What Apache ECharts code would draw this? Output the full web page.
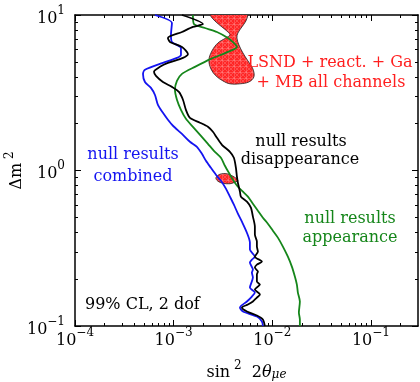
<!DOCTYPE html>
<html>
<head>
<meta charset="utf-8">
<script src="https://cdn.jsdelivr.net/npm/echarts@6/dist/echarts.min.js"></script>
<style>
  html, body { margin: 0; padding: 0; background: #fff; }
  #chart { width: 420px; height: 382px; }
</style>
</head>
<body>
<div id="chart"></div>
<script>
// 99% CL exclusion curves in the (sin^2 2theta_mue, dm^2) plane, [sin^2 2theta, dm^2 in eV^2]
const combinedNull = [
  [6.47e-4, 10], [9.61e-4, 8.88], [9.39e-4, 7.44], [9.61e-4, 6.71], [1.186e-3, 6.14], [1.186e-3, 5.54],
  [1.080e-3, 5.30], [7.79e-4, 4.92], [5.12e-4, 4.44], [4.89e-4, 4.18], [5.12e-4, 3.71], [5.89e-4, 3.40],
  [6.47e-4, 3.06], [6.93e-4, 2.64], [7.79e-4, 2.35], [8.75e-4, 2.12], [9.84e-4, 1.94], [1.214e-3, 1.72],
  [1.463e-3, 1.53], [1.722e-3, 1.42], [1.935e-3, 1.28], [2.125e-3, 1.155], [2.388e-3, 1.04], [2.683e-3, 0.939],
  [3.015e-3, 0.859], [3.388e-3, 0.764], [3.72e-3, 0.679], [4.08e-3, 0.603], [4.48e-3, 0.528], [4.92e-3, 0.469],
  [5.53e-3, 0.398], [5.93e-3, 0.344], [5.93e-3, 0.310], [6.66e-3, 0.279], [6.21e-3, 0.267], [5.93e-3, 0.256],
  [6.36e-3, 0.2306], [6.21e-3, 0.2207], [6.36e-3, 0.2048], [5.93e-3, 0.1767], [6.66e-3, 0.1641], [6.21e-3, 0.1547],
  [5.53e-3, 0.1437], [4.70e-3, 0.1315], [5.04e-3, 0.1239], [6.98e-3, 0.1151], [7.85e-3, 0.1069], [8.03e-3, 0.1]
];
const disappearanceNull = [
  [1.214e-3, 10], [1.981e-3, 8.75], [1.568e-3, 8.38], [1.214e-3, 7.78], [8.75e-4, 7.12], [9.17e-4, 6.71],
  [1.214e-3, 6.23], [1.396e-3, 5.62], [1.243e-3, 5.30], [8.75e-4, 4.92], [7.26e-4, 4.64], [6.32e-4, 4.31],
  [6.62e-4, 4.06], [7.79e-4, 3.71], [9.61e-4, 3.45], [1.131e-3, 3.20], [1.243e-3, 2.85], [1.332e-3, 2.455],
  [1.463e-3, 2.18], [1.847e-3, 2.03], [2.226e-3, 1.91], [2.501e-3, 1.774], [2.746e-3, 1.623], [3.086e-3, 1.463],
  [3.72e-3, 1.319], [4.08e-3, 1.207], [4.28e-3, 1.04], [4.38e-3, 0.912], [4.48e-3, 0.834], [4.70e-3, 0.731],
  [4.81e-3, 0.679], [5.53e-3, 0.630], [6.07e-3, 0.577], [6.36e-3, 0.505], [6.66e-3, 0.435], [6.66e-3, 0.387],
  [6.98e-3, 0.349], [6.98e-3, 0.324], [7.15e-3, 0.301], [6.66e-3, 0.279], [7.85e-3, 0.2595], [6.98e-3, 0.248],
  [6.66e-3, 0.2375], [7.15e-3, 0.2239], [6.98e-3, 0.2142], [6.98e-3, 0.193], [7.49e-3, 0.1847], [6.66e-3, 0.1715],
  [7.49e-3, 0.1593], [6.98e-3, 0.1524], [6.36e-3, 0.1437], [5.66e-3, 0.1374], [4.92e-3, 0.1315], [5.53e-3, 0.1239],
  [6.98e-3, 0.1168], [8.03e-3, 0.1101], [8.41e-3, 0.1]
];
const appearanceNull = [
  [1.568e-3, 10], [1.605e-3, 8.75], [2.076e-3, 8.25], [2.746e-3, 7.78], [3.55e-3, 7.12], [4.08e-3, 6.61],
  [4.38e-3, 6.23], [3.55e-3, 5.79], [2.388e-3, 5.22], [1.644e-3, 4.64], [1.214e-3, 4.18], [1.080e-3, 3.77],
  [1.031e-3, 3.30], [1.080e-3, 2.85], [1.186e-3, 2.455], [1.332e-3, 2.15], [1.568e-3, 1.91], [1.891e-3, 1.672],
  [2.226e-3, 1.485], [2.56e-3, 1.339], [3.015e-3, 1.207], [3.31e-3, 1.073], [3.63e-3, 0.967], [3.99e-3, 0.872],
  [4.48e-3, 0.786], [5.04e-3, 0.731], [5.66e-3, 0.679], [6.36e-3, 0.612], [7.15e-3, 0.551], [8.03e-3, 0.497],
  [9.02e-3, 0.455], [1.014e-2, 0.410], [1.139e-2, 0.370], [1.281e-2, 0.324], [1.439e-2, 0.279], [1.579e-2, 0.241],
  [1.694e-2, 0.208], [1.775e-2, 0.1847], [1.817e-2, 0.1641], [1.904e-2, 0.1437], [1.86e-2, 0.122], [1.904e-2, 0.1101],
  [1.904e-2, 0.1]
];
// Allowed region of the global fit (LSND + reactor + Ga + MiniBooNE), closed contours
const globalFitMain = [
  [2.175e-3, 11.09], [2.333e-3, 10], [2.62e-3, 9.15], [3.086e-3, 8.38], [3.55e-3, 7.78], [3.72e-3, 7.44],
  [3.388e-3, 7.12], [2.81e-3, 6.61], [2.443e-3, 5.87], [2.278e-3, 5.14], [2.388e-3, 4.50], [2.683e-3, 4.06],
  [3.16e-3, 3.77], [3.72e-3, 3.61], [4.70e-3, 3.61], [5.79e-3, 3.71], [6.51e-3, 4.00], [6.36e-3, 4.50],
  [5.66e-3, 5.07], [5.04e-3, 5.70], [4.59e-3, 6.42], [4.38e-3, 7.12], [4.48e-3, 7.66], [4.92e-3, 8.38],
  [5.40e-3, 9.15], [5.66e-3, 10], [5.79e-3, 11.09]
];
const globalFitIsland = [
  [2.683e-3, 0.898], [2.945e-3, 0.946], [3.467e-3, 0.953], [3.99e-3, 0.919], [4.48e-3, 0.866],
  [4.18e-3, 0.841], [3.72e-3, 0.822], [3.16e-3, 0.828], [2.81e-3, 0.853]
];

const xRange = [1e-4, 0.3];
const yRange = [0.1, 10];
const xDecades = [1e-4, 1e-3, 1e-2, 1e-1];
const yDecades = [0.1, 1, 10];

const FONT = 'DejaVu Serif';
const L = v => Math.log10(v);

function minorTicks(range) {
  const out = [];
  for (let e = Math.floor(L(range[0])); e <= Math.ceil(L(range[1])); e++) {
    for (let k = 2; k <= 9; k++) {
      const v = k * Math.pow(10, e);
      if (v > range[0] && v < range[1]) out.push(L(v));
    }
  }
  return out;
}

const tickRich = {
  b: { fontFamily: FONT, fontSize: 16, color: '#000', padding: [7, 0, 0, 0] },
  s: { fontFamily: FONT, fontSize: 12, color: '#000', padding: [0, 0, 9, 0] }
};
function powerLabel(v) {
  const e = Math.round(v);
  return '{b|10}{s|' + (e < 0 ? '\u2212' + (-e) : e) + '}';
}

function frameAxes(range, decades, posMain, posOpp, labelMargin, extra) {
  const base = {
    type: 'value', min: L(range[0]), max: L(range[1]),
    splitLine: { show: false },
    axisLine: { show: true, onZero: false, lineStyle: { color: '#000', width: 1.5 } }
  };
  const major = decades.map(L);
  const minor = minorTicks(range);
  return [
    Object.assign({}, base, {
      position: posMain,
      axisTick: { show: true, inside: true, length: 6, customValues: major, lineStyle: { color: '#000', width: 1 } },
      axisLabel: { show: true, customValues: major, formatter: powerLabel, rich: tickRich, margin: labelMargin }
    }, extra),
    Object.assign({}, base, {
      position: posMain, axisLine: { show: false, onZero: false },
      axisTick: { show: true, inside: true, length: 3, customValues: minor, lineStyle: { color: '#000', width: 1 } },
      axisLabel: { show: false }
    }),
    Object.assign({}, base, {
      position: posOpp,
      axisTick: { show: true, inside: true, length: 6, customValues: major, lineStyle: { color: '#000', width: 1 } },
      axisLabel: { show: false }
    }),
    Object.assign({}, base, {
      position: posOpp, axisLine: { show: false, onZero: false },
      axisTick: { show: true, inside: true, length: 3, customValues: minor, lineStyle: { color: '#000', width: 1 } },
      axisLabel: { show: false }
    })
  ];
}

// crosshatched red fill for the allowed regions
const tile = document.createElement('canvas');
tile.width = 6; tile.height = 6;
(function () {
  const g = tile.getContext('2d');
  g.fillStyle = '#ff2626';
  g.fillRect(0, 0, 6, 6);
  g.strokeStyle = 'rgba(255,150,150,0.6)';
  g.lineWidth = 0.6;
  g.beginPath();
  g.moveTo(0, 0.5); g.lineTo(6, 0.5);
  g.moveTo(0.5, 0); g.lineTo(0.5, 6);
  g.moveTo(0, 0); g.lineTo(6, 6);
  g.moveTo(6, 0); g.lineTo(0, 6);
  g.stroke();
})();
const hatch = { image: tile, repeat: 'repeat' };

function regionSeries(points, name) {
  return {
    type: 'custom', name: name, coordinateSystem: 'cartesian2d', z: 2,
    data: points.map(p => [L(p[0]), L(p[1])]),
    encode: { x: 0, y: 1 },
    renderItem: function (params, api) {
      if (params.dataIndex !== 0) return null;
      const cs = params.coordSys;
      const pts = points.map(p => api.coord([L(p[0]), L(p[1])]));
      return {
        type: 'group',
        clipPath: { type: 'rect', shape: { x: cs.x, y: cs.y, width: cs.width, height: cs.height } },
        children: [{
          type: 'polygon',
          shape: { points: pts, smooth: 0.35 },
          style: { fill: hatch, stroke: '#222', lineWidth: 0.8 }
        }]
      };
    }
  };
}

function curveSeries(points, name, color) {
  return {
    type: 'line', name: name, z: 3,
    data: points.map(p => [L(p[0]), L(p[1])]),
    showSymbol: false, symbol: 'none', smooth: 0.25,
    lineStyle: { color: color, width: 1.8 },
    clip: true
  };
}

function note(text, x, y, color, align) {
  return {
    type: 'text', x: x, y: y, z: 10,
    style: {
      text: text, fill: color, font: '16px "' + FONT + '"',
      textAlign: align || 'center', textVerticalAlign: 'middle',
      align: align || 'center', verticalAlign: 'middle'
    }
  };
}

const BLUE = '#1414f0', GREEN = '#15861a', RED = '#ff1f1f';

const chart = echarts.init(document.getElementById('chart'), null, { renderer: 'canvas' });
chart.setOption({
  animation: false,
  backgroundColor: '#fff',
  grid: { left: 75, right: 2, top: 15, bottom: 56, containLabel: false, outerBoundsMode: 'none' },
  xAxis: frameAxes(xRange, xDecades, 'bottom', 'top', 0, {
    name: '{t|sin}{s| 2}{t|  2}{i|\u03b8}{u|\u03bce}',
    nameLocation: 'middle', nameGap: 32, nameMoveOverlap: false,
    nameTextStyle: {
      rich: {
        t: { fontFamily: FONT, fontSize: 16, color: '#000', padding: [6, 0, 0, 0] },
        s: { fontFamily: FONT, fontSize: 12, color: '#000', padding: [0, 0, 8, 0] },
        i: { fontFamily: FONT, fontSize: 16, fontStyle: 'italic', color: '#000', padding: [6, 0, 0, 0] },
        u: { fontFamily: FONT, fontSize: 12, fontStyle: 'italic', color: '#000', padding: [11, 0, 0, 0] }
      }
    }
  }),
  yAxis: frameAxes(yRange, yDecades, 'left', 'right', 10, {
    name: '{a|\u0394m}{s| 2}',
    nameLocation: 'middle', nameRotate: 90, nameGap: 50, nameMoveOverlap: false,
    nameTextStyle: {
      rich: {
        a: { fontFamily: FONT, fontSize: 16, color: '#000', padding: [6, 0, 0, 0] },
        s: { fontFamily: FONT, fontSize: 12, color: '#000', padding: [0, 0, 8, 0] }
      }
    }
  }),
  series: [
    regionSeries(globalFitMain, 'LSND + react. + Ga + MB'),
    regionSeries(globalFitIsland, 'LSND + react. + Ga + MB (island)'),
    curveSeries(combinedNull, 'null results combined', BLUE),
    curveSeries(appearanceNull, 'null results appearance', GREEN),
    curveSeries(disappearanceNull, 'null results disappearance', '#000')
  ],
  graphic: [
    note('LSND + react. + Ga', 330, 63, RED),
    note('+ MB all channels', 331, 83, RED),
    note('null results', 133, 155, BLUE),
    note('combined', 133, 177, BLUE),
    note('null results', 301, 142, '#000'),
    note('disappearance', 300, 160, '#000'),
    note('null results', 350, 219, GREEN),
    note('appearance', 350, 238, GREEN),
    note('99% CL, 2 dof', 85, 305, '#000', 'left')
  ]
});
</script>
</body>
</html>
